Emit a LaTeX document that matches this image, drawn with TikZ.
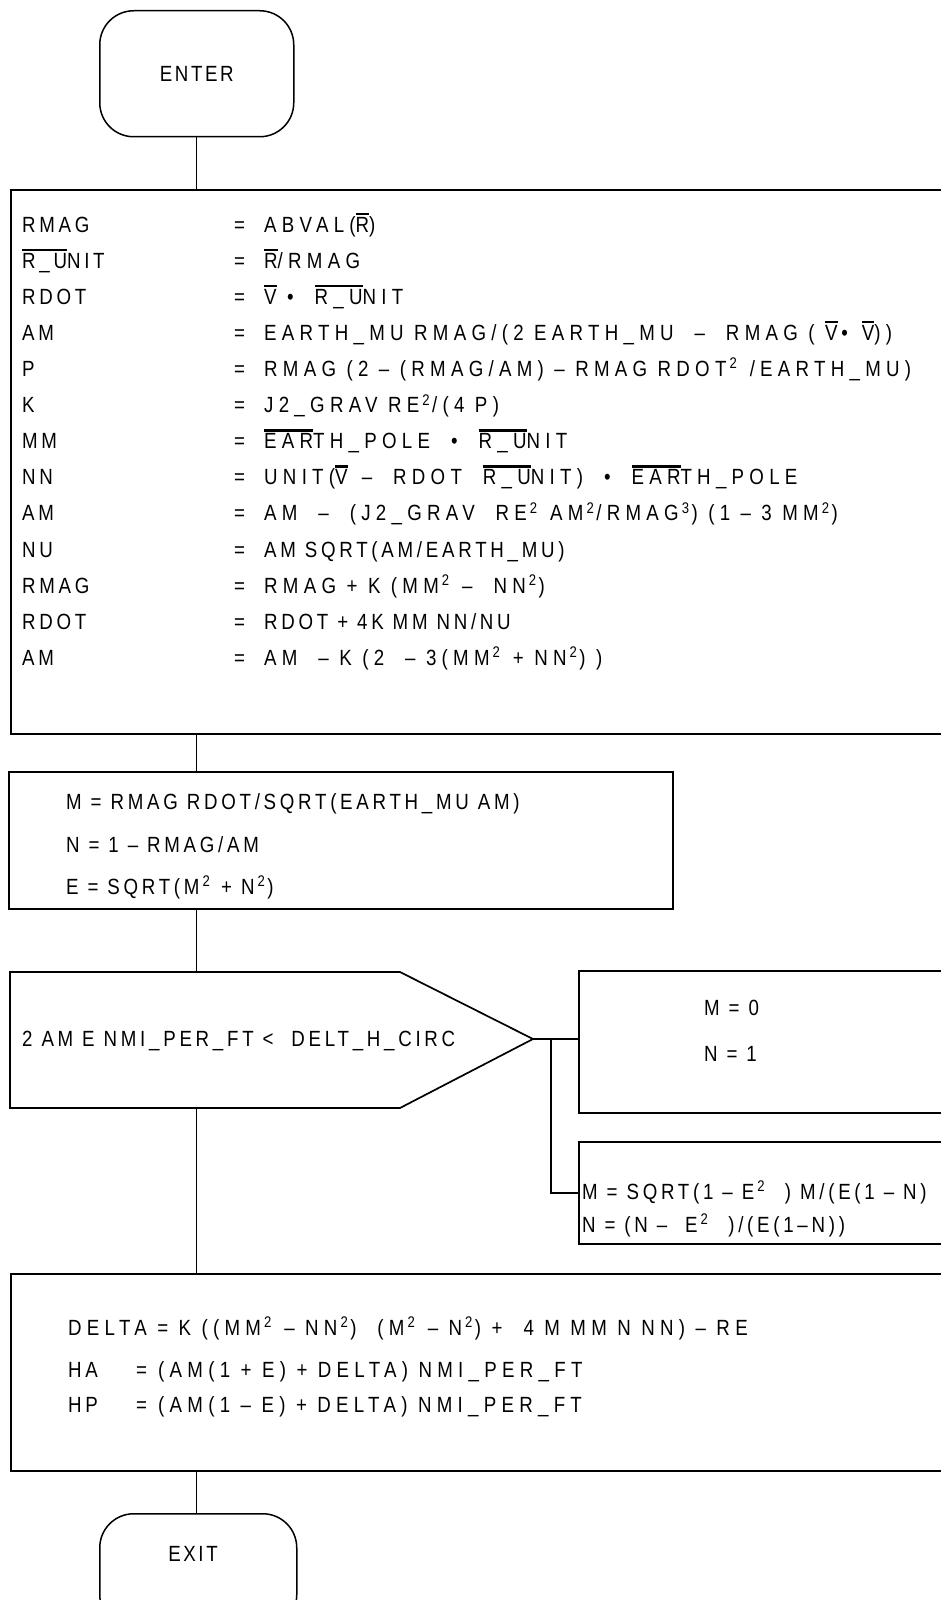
\documentclass[tikz,border=0pt]{standalone}
\usepackage{fontspec}
\setmainfont{Liberation Sans}[FakeStretch=0.85, LetterSpace=12]
\newfontfamily\trk{Liberation Sans}[FakeStretch=0.85, LetterSpace=17]
\newfontfamily\trkw{Liberation Sans}[FakeStretch=0.85, LetterSpace=24]
\newcommand{\myovl}[1]{\leavevmode\setbox0\hbox{#1}\rlap{\raisebox{\dimexpr\ht0+2pt\relax}{\rule{\wd0}{2.4pt}}}\box0}
\newcommand{\sq}{\kern3pt\textsuperscript{2}\kern2pt}
\newcommand{\cu}{\kern3pt\textsuperscript{3}\kern2pt}
\begin{document}
\begin{tikzpicture}[x=1pt,y=-1pt,
  box/.style={draw, line width=1.7pt, inner sep=0pt, anchor=north west},
  term/.style={draw, line width=1.5pt, rounded corners=34pt, inner sep=0pt, anchor=north west, font=\fontsize{22}{26}\selectfont},
  conn/.style={line width=1.4pt},
  txt/.style={anchor=base west, inner sep=0pt, font=\fontsize{22}{26}\selectfont\trk},
  wtxt/.style={anchor=base west, inner sep=0pt, font=\fontsize{22}{26}\selectfont\trkw},
  ttxt/.style={inner sep=0pt, font=\fontsize{22}{26}\selectfont}]
\useasboundingbox (0,0) rectangle (941,1600);
% terminals
\node[term, minimum width=194pt, minimum height=126pt] (enter) at (99,10) {ENTER};
% box 1
\node[box, minimum width=960pt, minimum height=544pt] (b1) at (10,189) {};
\draw[conn] (enter.south) -- (enter.south |- b1.north);
\foreach \i/\l/\r in {
 1/{RMAG}/{ABVAL(\myovl{R})},
 2/{\myovl{R\_U}NIT}/{\myovl{R}/RMAG},
 3/{RDOT}/{\myovl{V} \ • \ \myovl{R\_U}NIT},
 4/{AM}/{EARTH\_MU RMAG/(2 EARTH\_MU \ – \ RMAG ( \myovl{V} \,•\, \myovl{V}))},
 5/{P}/{RMAG (2 – (RMAG/AM) – RMAG RDOT\sq\ /EARTH\_MU)},
 6/{K}/{J2\_GRAV RE\sq/(4 P)},
 7/{MM}/{\myovl{EAR}TH\_POLE \ • \ \myovl{R\_U}NIT},
 8/{NN}/{UNIT(\myovl{V}\, – \ RDOT \ \myovl{R\_U}NIT) \ • \ \myovl{EAR}TH\_POLE},
 9/{AM}/{AM \ – \ (J2\_GRAV \ RE\sq\ AM\sq/RMAG\cu) (1 – 3 MM\sq)},
 11/{RMAG}/{RMAG + K (MM\sq\ – \ NN\sq)},
 13/{AM}/{AM \ – K (2 \ – 3(MM\sq\ + NN\sq) )}}{
  \node[wtxt] (r\i) at (264, 196+36.1*\i) {\r};
}
\foreach \i/\r in {
 10/{AM SQRT(AM/EARTH\_MU)},
 12/{RDOT + 4K MM NN/NU}}{
  \node[txt] (r\i) at (264, 196+36.1*\i) {\r};
}
\foreach \i/\l in {1/{RMAG},2/{\myovl{R\_U}NIT},3/{RDOT},4/{AM},5/{P},6/{K},7/{MM},8/{NN},9/{AM},10/{NU},11/{RMAG},12/{RDOT},13/{AM}}{
  \node[txt] (l\i) at (22, 196+36.1*\i) {\l};
  \node[txt] (e\i) at (234, 196+36.1*\i) {=};
}
% box 2
\node[box, minimum width=664pt, minimum height=137pt] (b2) at (8,771) {};
\draw[conn] (enter.south |- b1.south) -- (enter.south |- b2.north);
\node[txt] (m1) at (66,809) {M = RMAG RDOT/SQRT(EARTH\_MU AM)};
\node[txt] (m2) at (66,852) {N = 1 – RMAG/AM};
\node[txt] (m3) at (66,894) {E = SQ\,RT(M\sq\ + N\sq)};
% decision
\coordinate (dnw) at (10,972);
\coordinate (dtip) at (533,1039);
\coordinate (dsw) at (10,1108);
\draw[line width=1.7pt] (dnw) -- (400,972) -- (dtip) -- (400,1108) -- (dsw) -- cycle;
\node[txt] (dtext) at (22,1046) {2 AM E NMI\_PER\_FT < \ DELT\_H\_CIRC};
\draw[conn] (enter.south |- b2.south) -- (enter.south |- dnw);
% box 3
\node[box, minimum width=400pt, minimum height=142pt] (b3) at (578,970) {};
\node[txt] (c1) at (704,1015) {M = 0};
\node[txt] (c2) at (704,1061) {N = 1};
% box 4
\node[box, minimum width=400pt, minimum height=102pt] (b4) at (578,1141) {};
\node[txt] (d1) at (582,1199) {M = SQRT(1 – E\sq\ \ ) M/(E(1 – N)};
\node[txt] (d2) at (582,1232) {N = (N – \ E\sq\ \ )/(E(1–N))};
\coordinate (br) at (551,1039);
\draw[conn] (dtip) -- (dtip -| b3.west);
\draw[conn] (br) |- (b4.west);
% box 5
\node[box, minimum width=960pt, minimum height=197pt] (b5) at (10,1273) {};
\draw[conn] (enter.south |- dsw) -- (enter.south |- b5.north);
\node[wtxt] (f1) at (68,1335) {DELTA = K ((MM\sq\ – NN\sq) \ (M\sq\ – N\sq) + \ 4 M MM N NN) – RE};
\node[txt] (f2) at (68,1377) {HA};
\node[txt] (f2e) at (136,1377) {=};
\node[wtxt] (f2r) at (158,1377) {(AM(1 + E) + DELTA) NMI\_PER\_FT};
\node[txt] (f3) at (68,1412) {HP};
\node[txt] (f3e) at (136,1412) {=};
\node[wtxt] (f3r) at (158,1412) {(AM(1 – E) + DELTA) NMI\_PER\_FT};
% exit
\node[term, minimum width=197pt, minimum height=115pt] (exit) at (99,1513) {};
\node[ttxt] (exittxt) at (193,1554) {EXIT};
\draw[conn] (enter.south |- b5.south) -- (enter.south |- exit.north);
\end{tikzpicture}
\end{document}
